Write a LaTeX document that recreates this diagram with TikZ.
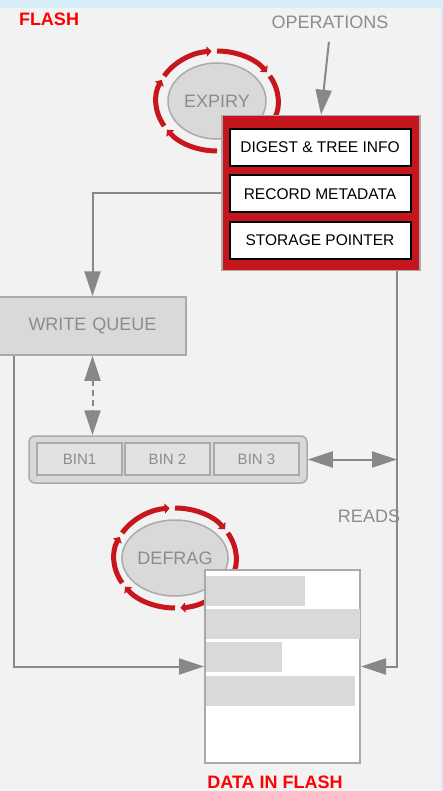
\documentclass[tikz,border=0pt]{standalone}
\usepackage{fontspec}
\setmainfont{Liberation Sans}
\usetikzlibrary{arrows.meta,shapes.geometric}

\definecolor{panel}{HTML}{F2F2F2}
\definecolor{sky}{HTML}{D6EDF8}
\definecolor{boxgrey}{HTML}{D9D9D9}
\definecolor{bingrey}{HTML}{E2E2E2}
\definecolor{edgegrey}{HTML}{AAAAAA}
\definecolor{linegrey}{HTML}{888888}
\definecolor{textgrey}{HTML}{8C8C8C}
\definecolor{darkred}{HTML}{C4161C}
\definecolor{ringred}{HTML}{C8161D}

\begin{document}
\begin{tikzpicture}[x=1pt,y=-1pt,
	flow/.style={draw=linegrey,line width=2pt,-{Triangle[length=25pt,width=16pt]}},
	twoway/.style={draw=linegrey,line width=2pt,{Triangle[length=25pt,width=16pt]}-{Triangle[length=25pt,width=16pt]}},
	ring/.style={draw=ringred,line width=5pt,-{Triangle[length=5pt,width=10pt]}},
	greybox/.style={draw=edgegrey,line width=1.5pt,fill=boxgrey,inner sep=0pt,text=textgrey,font=\fontsize{18}{20}\selectfont},
	binbox/.style={draw=edgegrey,line width=1.5pt,fill=bingrey,inner sep=0pt,minimum width=85pt,minimum height=32pt,text=textgrey,font=\fontsize{15}{17}\selectfont},
	field/.style={draw=black,line width=2pt,fill=white,inner sep=0pt,minimum width=181pt,minimum height=37pt,font=\fontsize{15.5}{18}\selectfont},
	redtitle/.style={text=red,font=\bfseries\fontsize{18}{20}\selectfont},
	caption/.style={text=textgrey,font=\fontsize{18}{20}\selectfont}]

	%panel
	\useasboundingbox (0,0) rectangle (443,791);
	\fill[panel] (0,0) rectangle (443,791);
	\fill[sky] (0,0) rectangle (443,8);
	\fill[sky] (441,0) rectangle (443,791);

	\node[redtitle] (flash) at (49,19) {FLASH};
	\node[caption] (ops) at (330,22) {OPERATIONS};
	\node[caption] (reads) at (369,516) {READS};
	\node[redtitle] (dataname) at (275,782) {DATA IN FLASH};

	%background jobs with their cycle arrows
	\node[greybox,ellipse,minimum width=98pt,minimum height=76pt] (expiry) at (217,101) {EXPIRY};
	\node[greybox,ellipse,minimum width=98pt,minimum height=76pt] (defrag) at (175,558) {DEFRAG};
	\foreach \a in {30,90,...,330}{
		\draw[ring] ([shift={(\a:61 and 50)}]expiry.center) arc[start angle=\a,end angle=\a+55,x radius=61,y radius=50];
		\draw[ring] ([shift={(\a:61 and 50)}]defrag.center) arc[start angle=\a,end angle=\a+55,x radius=61,y radius=50];}

	%index entry
	\node[draw=edgegrey,line width=1.5pt,fill=darkred,minimum width=198pt,minimum height=155pt] (meta) at (321,193) {};
	\node[field] (digest) at (320,147.5) {DIGEST \& TREE INFO};
	\node[field] (record) at (320,194) {RECORD METADATA};
	\node[field] (pointer) at (320,240.5) {STORAGE POINTER};

	\node[greybox,minimum width=187pt,minimum height=58pt,text width=187pt,align=center] (wq) at (92.5,326) {WRITE QUEUE};

	%bins
	\node[greybox,rounded corners=6pt,minimum width=278pt,minimum height=47pt] (bins) at (168,459.5) {};
	\node[binbox] (bin1) at (79.5,459) {BIN1};
	\node[binbox] (bin2) at (167.5,459) {BIN 2};
	\node[binbox] (bin3) at (256.5,459) {BIN 3};

	%storage
	\node[draw=edgegrey,line width=2pt,fill=white,minimum width=155pt,minimum height=193pt] (data) at (282.5,666.5) {};
	\foreach \top/\right in {576/305,609/360,642/282,676/355}
		\fill[boxgrey] (206,\top) rectangle (\right,\top+30);

	%connectors
	\coordinate (rd) at (397,461);
	\draw[flow,shorten <=10pt] (ops.south) -- (meta.north);
	\draw[flow] (meta.west) -| (wq.north);
	\draw[twoway,dash pattern=on 6pt off 4pt] (wq.south) -- (wq.south |- bins.north);
	\draw[twoway] (bins.east) -- (bins.east -| rd);
	\draw[flow] (meta.south -| rd) |- (data.east);
	\draw[flow] ([xshift=16pt]wq.south west) |- (data.west);
\end{tikzpicture}
\end{document}
